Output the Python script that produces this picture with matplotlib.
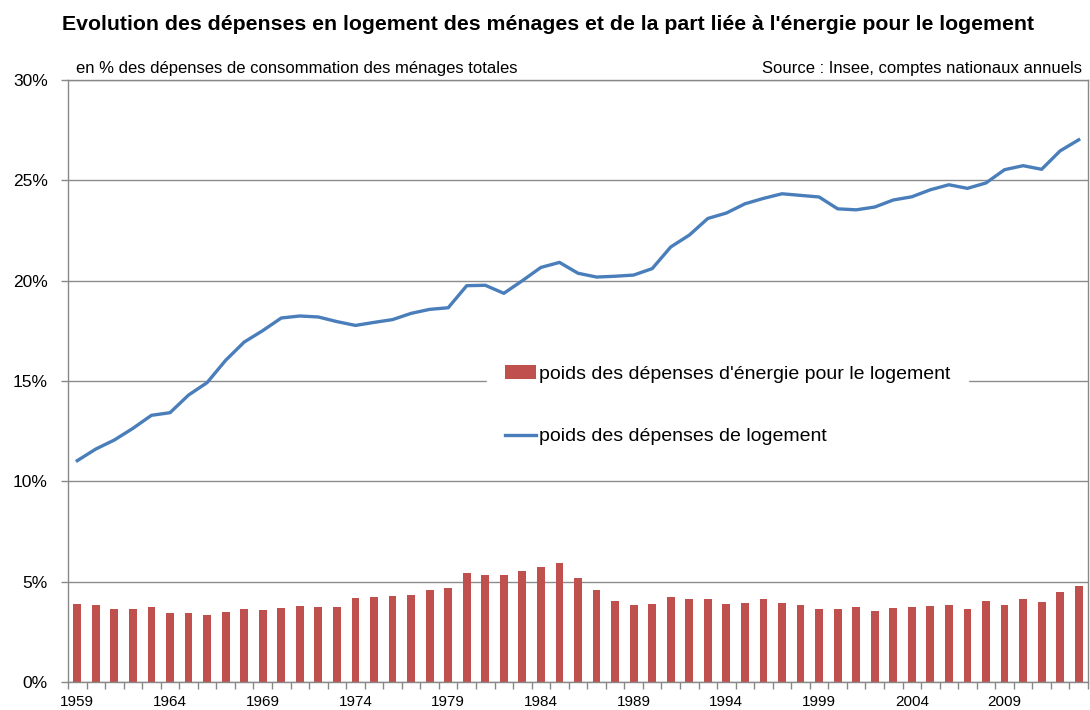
import numpy as np
import matplotlib
matplotlib.use("Agg")
import matplotlib.pyplot as plt
from matplotlib.ticker import FuncFormatter

plt.rcParams['font.family'] = ['Liberation Sans', 'DejaVu Sans']

# Data, 1959-2013
years = list(range(1959, 2014))
energie = [3.90, 3.82, 3.64, 3.65, 3.74, 3.46, 3.46, 3.36, 3.47, 3.64,
           3.57, 3.69, 3.79, 3.74, 3.72, 4.17, 4.25, 4.29, 4.34, 4.58,
           4.68, 5.42, 5.35, 5.32, 5.51, 5.75, 5.93, 5.17, 4.58, 4.05,
           3.84, 3.89, 4.25, 4.14, 4.14, 3.89, 3.94, 4.12, 3.92, 3.85,
           3.65, 3.62, 3.75, 3.52, 3.70, 3.74, 3.80, 3.85, 3.64, 4.02,
           3.85, 4.15, 4.00, 4.50, 4.78]
logement = [11.03, 11.61, 12.06, 12.64, 13.29, 13.42, 14.30, 14.92, 16.03, 16.94,
            17.51, 18.14, 18.24, 18.19, 17.96, 17.77, 17.92, 18.06, 18.37, 18.57,
            18.65, 19.75, 19.77, 19.37, 20.00, 20.66, 20.91, 20.37, 20.18, 20.22,
            20.28, 20.60, 21.68, 22.27, 23.10, 23.37, 23.83, 24.10, 24.33, 24.25,
            24.17, 23.58, 23.53, 23.67, 24.02, 24.18, 24.53, 24.78, 24.60, 24.87,
            25.53, 25.73, 25.55, 26.47, 27.02]

label_bars = "poids des dépenses d'énergie pour le logement"
label_line = "poids des dépenses de logement"

fig = plt.figure(figsize=(10.9, 7.1), dpi=100)
ax = fig.add_axes([68 / 1090, 1 - 682 / 710, 1020 / 1090, 602 / 710])

x = np.arange(len(years))
bars = ax.bar(x, energie, width=0.42, color="#C0504D", label=label_bars, zorder=2)
line, = ax.plot(x, logement, color="#4A7EBB", lw=2.4, label=label_line, zorder=3,
                solid_joinstyle='round')

ax.set_xlim(-0.5, len(years) - 0.5)
ax.set_ylim(0, 30)
ax.set_yticks(range(0, 31, 5))
ax.yaxis.set_major_formatter(FuncFormatter(lambda v, p: f"{int(v)}%"))
ax.grid(axis='y', color='#8c8c8c', lw=1)
ax.set_axisbelow(True)

# category ticks between bars, labels every 5 years
ax.set_xticks(x[::5])
ax.set_xticklabels([str(y) for y in years[::5]])
ax.set_xticks(np.arange(-0.5, len(years), 1), minor=True)
ax.tick_params(axis='x', which='major', length=0, pad=9, labelsize=11)
ax.tick_params(axis='x', which='minor', length=5, color='#888888', width=1)
ax.tick_params(axis='y', length=5, color='#888888', width=1, labelsize=12.5, pad=9.5)

for side in ['left', 'bottom', 'right', 'top']:
    ax.spines[side].set_color('#888888')
    ax.spines[side].set_linewidth(1)

leg = ax.legend([bars, line], [label_bars, label_line],
                loc='upper left', bbox_to_anchor=(0.411, 0.555), fontsize=14,
                frameon=True, fancybox=False, framealpha=1, edgecolor='white',
                handlelength=1.6, handletextpad=0.15, labelspacing=2.3,
                borderpad=0.9, borderaxespad=0)

fig.text(62 / 1090, 1 - 24 / 710, "Evolution des dépenses en logement des ménages et de la part liée à l'énergie pour le logement",
         fontsize=15.3, fontweight='bold', ha='left', va='center')
fig.text(76 / 1090, 1 - 69 / 710, "en % des dépenses de consommation des ménages totales",
         fontsize=12, ha='left', va='center')
fig.text(1082 / 1090, 1 - 69 / 710, "Source : Insee, comptes nationaux annuels",
         fontsize=12, ha='right', va='center')

fig.savefig("out.png", dpi=100)
